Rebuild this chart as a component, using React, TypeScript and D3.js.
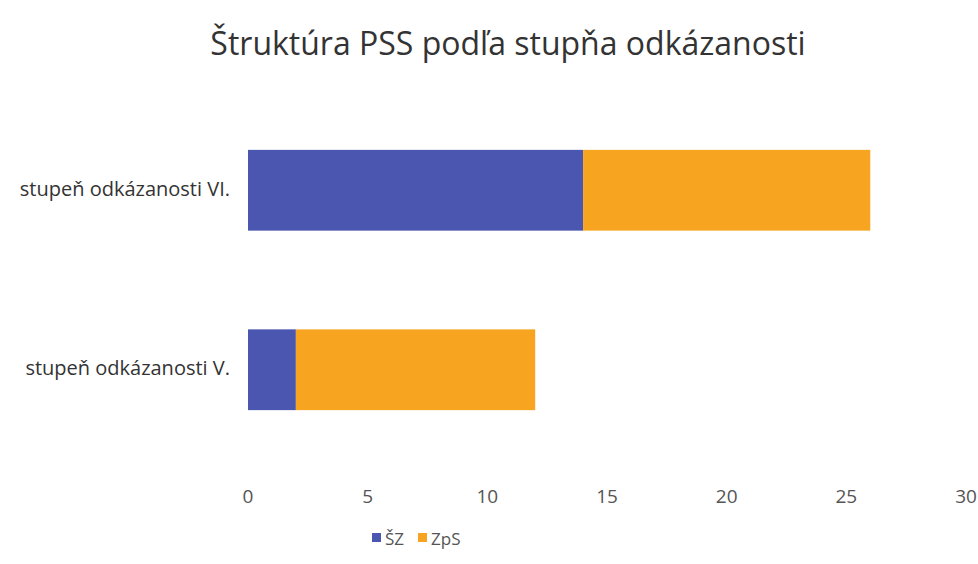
import React from "react";
import * as d3 from "d3";

const categories = ["stupeň odkázanosti VI.", "stupeň odkázanosti V."];
const seriesNames = ["ŠZ", "ZpS"];
const szValues = [14, 2];
const zpsValues = [12, 10];
const xTicks = [0, 5, 10, 15, 20, 25, 30];
const colors = ["#4a56b0", "#f7a521"];

const W = 978;
const H = 564;
const font = "'Open Sans', sans-serif";

export default function App() {
  const x = d3.scaleLinear().domain([0, 30]).range([248, 966]);
  const y = d3.scaleBand().domain(categories).range([105, 455]).paddingInner(0.55).paddingOuter(0.25);

  const rows = categories.map((c, i) => ({ cat: c, ŠZ: szValues[i], ZpS: zpsValues[i] }));
  const stacked = d3.stack<any>().keys(seriesNames)(rows);

  return (
    <svg width={W} height={H} style={{ position: "absolute", left: 0, top: 0, background: "#fff" }}>
      <text x={508} y={55} textAnchor="middle" fontFamily={font} fontSize={32} fill="#333">
        Štruktúra PSS podľa stupňa odkázanosti
      </text>
      {stacked.map((s, si) => (
        <g key={s.key}>
          {s.map((d, i) => (
            <rect
              key={i}
              x={x(d[0])}
              y={y(categories[i])}
              width={x(d[1]) - x(d[0])}
              height={y.bandwidth()}
              fill={colors[si]}
            />
          ))}
        </g>
      ))}
      {categories.map((c) => (
        <text key={c} x={230} y={(y(c) ?? 0) + y.bandwidth() / 2} textAnchor="end" dominantBaseline="middle"
          fontFamily={font} fontSize={20} fill="#333">
          {c}
        </text>
      ))}
      {xTicks.map((t) => (
        <text key={t} x={x(t)} y={503} textAnchor="middle" fontFamily={font} fontSize={19} fill="#555">
          {t}
        </text>
      ))}
      {seriesNames.map((n, i) => (
        <g key={n} transform={`translate(${372 + i * 46},541)`}>
          <rect x={0} y={-8} width={9} height={9} fill={colors[i]} />
          <text x={13} y={-1} dominantBaseline="middle" fontFamily={font} fontSize={17} fill="#555">
            {n}
          </text>
        </g>
      ))}
    </svg>
  );
}
